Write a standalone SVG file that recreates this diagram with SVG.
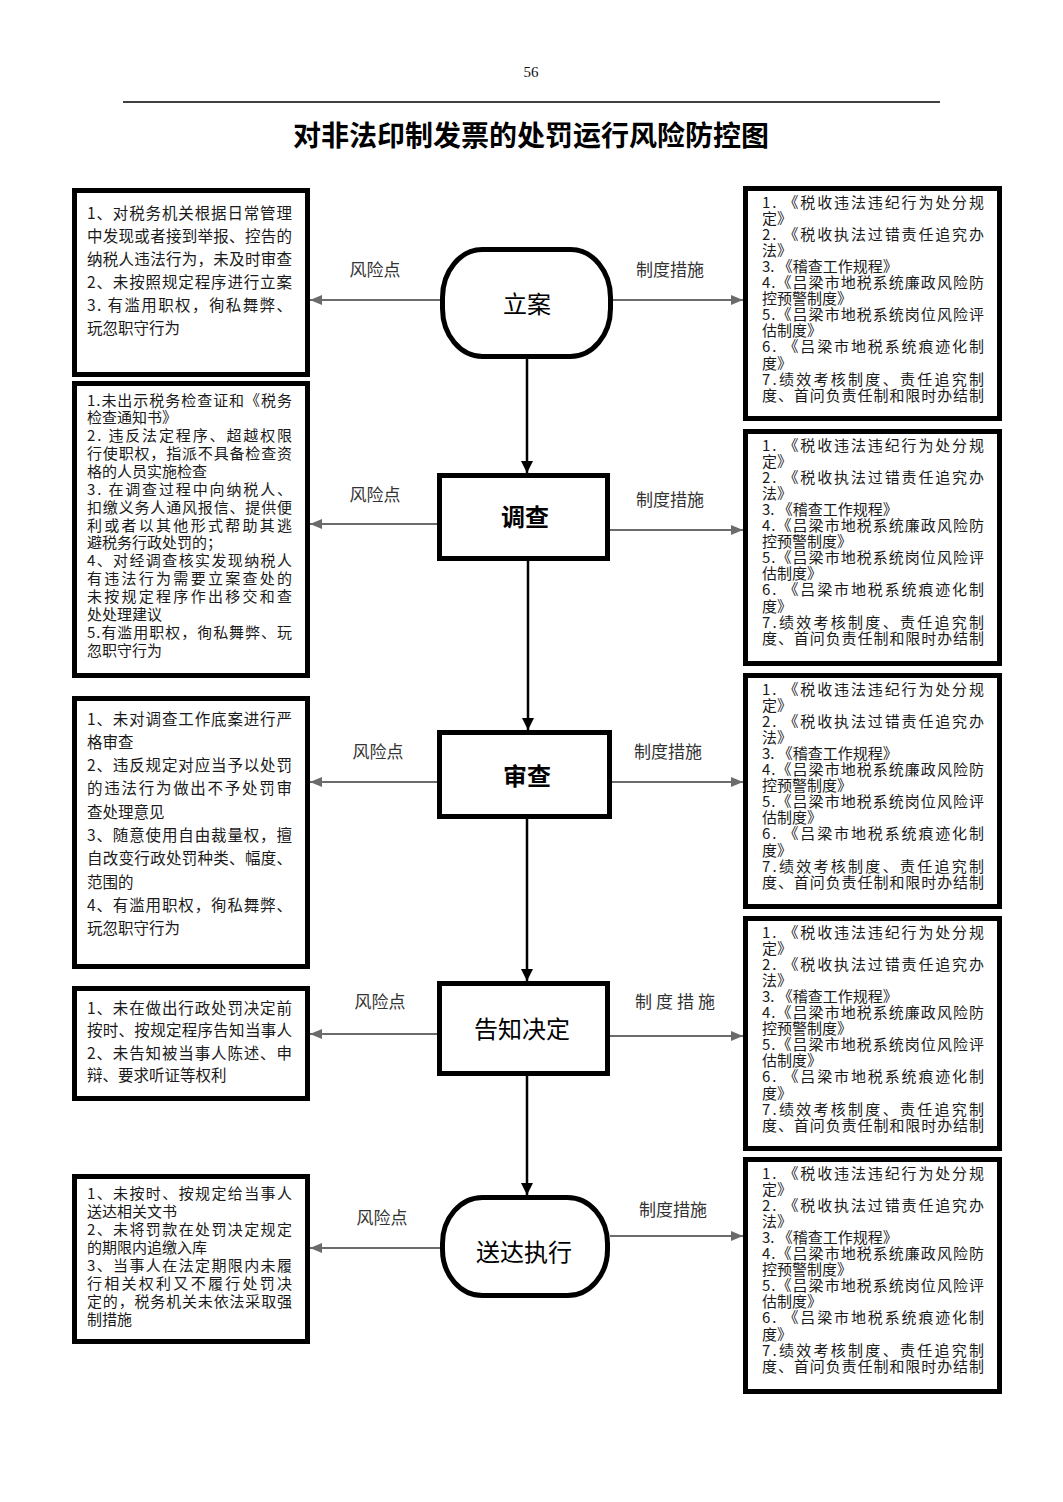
<svg xmlns="http://www.w3.org/2000/svg" width="1063" height="1502" viewBox="0 0 1063 1502">
<style>
.bg{fill:#fff}
.box{fill:#fff;stroke:#000;stroke-width:5}
.node{fill:#fff;stroke:#000;stroke-width:5}
.t{font-family:"Noto Sans CJK SC","Noto Sans CJK JP",sans-serif;font-size:15.5px;fill:#1a1a1a}
.s{font-size:15px}
.lbl{font-family:"Noto Sans CJK SC","Noto Sans CJK JP",sans-serif;font-size:17px;fill:#333;text-anchor:middle}
.nt{font-family:"Noto Sans CJK SC","Noto Sans CJK JP",sans-serif;font-size:24px;fill:#000;text-anchor:middle}
.b{font-weight:bold}
.g{stroke:#6b6b6b;stroke-width:2.2;fill:none}
.k{stroke:#000;stroke-width:2.5;fill:none}
</style>
<defs>
<marker id="ak" viewBox="0 0 12 12" refX="12" refY="6" markerWidth="12" markerHeight="12" orient="auto" markerUnits="userSpaceOnUse"><path d="M0,0 L12,6 L0,12 z" fill="#000"/></marker>
<marker id="ag" viewBox="0 0 12 10" refX="12" refY="5" markerWidth="12" markerHeight="10" orient="auto" markerUnits="userSpaceOnUse"><path d="M0,0 L12,5 L0,10 z" fill="#6b6b6b"/></marker>
</defs>
<rect class="bg" x="0" y="0" width="1063" height="1502"/>

<g id="header">
<text x="531" y="77" font-family="Liberation Serif,serif" font-size="15" text-anchor="middle" fill="#111">56</text>
<line x1="123" y1="102" x2="940" y2="102" stroke="#000" stroke-width="1.6"/>
<text x="531" y="146" font-family="Noto Sans CJK SC,sans-serif" font-size="28" font-weight="bold" text-anchor="middle" fill="#000">对非法印制发票的处罚运行风险防控图</text>
</g>

<g id="connectors">
<line class="k" x1="527" y1="359" x2="527" y2="473" marker-end="url(#ak)"/>
<line class="k" x1="528" y1="561" x2="528" y2="730" marker-end="url(#ak)"/>
<line class="k" x1="527" y1="819" x2="527" y2="981" marker-end="url(#ak)"/>
<line class="k" x1="527" y1="1076" x2="527" y2="1195" marker-end="url(#ak)"/>
<line class="g" x1="440" y1="300" x2="310" y2="300" marker-end="url(#ag)"/>
<line class="g" x1="613" y1="300" x2="743" y2="300" marker-end="url(#ag)"/>
<line class="g" x1="437" y1="524" x2="310" y2="524" marker-end="url(#ag)"/>
<line class="g" x1="610" y1="530" x2="743" y2="530" marker-end="url(#ag)"/>
<line class="g" x1="437" y1="782" x2="310" y2="782" marker-end="url(#ag)"/>
<line class="g" x1="612" y1="782" x2="743" y2="782" marker-end="url(#ag)"/>
<line class="g" x1="437" y1="1034" x2="310" y2="1034" marker-end="url(#ag)"/>
<line class="g" x1="610" y1="1036" x2="743" y2="1036" marker-end="url(#ag)"/>
<line class="g" x1="440" y1="1248" x2="310" y2="1248" marker-end="url(#ag)"/>
<line class="g" x1="610" y1="1236" x2="743" y2="1236" marker-end="url(#ag)"/>
<text class="lbl" x="375" y="276">风险点</text>
<text class="lbl" x="670" y="276">制度措施</text>
<text class="lbl" x="375" y="501">风险点</text>
<text class="lbl" x="670" y="506">制度措施</text>
<text class="lbl" x="378" y="758">风险点</text>
<text class="lbl" x="668" y="758">制度措施</text>
<text class="lbl" x="380" y="1008">风险点</text>
<text class="lbl" x="677" y="1008" letter-spacing="4">制度措施</text>
<text class="lbl" x="382" y="1224">风险点</text>
<text class="lbl" x="673" y="1216">制度措施</text>
</g>

<g id="n1">
<rect class="node" x="442.5" y="249.5" width="168" height="107" rx="40" ry="48"/>
<text class="nt" x="527" y="313">立案</text>
</g>
<g id="n2">
<rect class="node" x="439.5" y="475.5" width="168" height="83"/>
<text class="nt b" x="525" y="526">调查</text>
</g>
<g id="n3">
<rect class="node" x="439.5" y="732.5" width="170" height="84"/>
<text class="nt b" x="527" y="785">审查</text>
</g>
<g id="n4">
<rect class="node" x="439.5" y="983.5" width="168" height="90"/>
<text class="nt" x="522" y="1038" font-size="25">告知决定</text>
</g>
<g id="n5">
<rect class="node" x="442.5" y="1197.5" width="165" height="98" rx="40" ry="46"/>
<text class="nt" x="524" y="1261" font-size="25">送达执行</text>
</g>

<g id="risk1">
<rect class="box" x="74.5" y="190.5" width="233" height="184"/>
<text class="t" x="87" y="219" textLength="205" lengthAdjust="spacing">1、对税务机关根据日常管理</text>
<text class="t" x="87" y="242" textLength="205" lengthAdjust="spacing">中发现或者接到举报、控告的</text>
<text class="t" x="87" y="265" textLength="205" lengthAdjust="spacing">纳税人违法行为，未及时审查</text>
<text class="t" x="87" y="288" textLength="205" lengthAdjust="spacing">2、未按照规定程序进行立案</text>
<text class="t" x="87" y="311" textLength="205" lengthAdjust="spacing">3. 有滥用职权，徇私舞弊、</text>
<text class="t" x="87" y="334">玩忽职守行为</text>
</g>

<g id="risk2">
<rect class="box" x="74.5" y="383.5" width="233" height="292"/>
<text class="t s" x="87" y="405.5" textLength="205" lengthAdjust="spacing">1.未出示税务检查证和《税务</text>
<text class="t s" x="87" y="423.4">检查通知书》</text>
<text class="t s" x="87" y="441.2" textLength="205" lengthAdjust="spacing">2. 违反法定程序、超越权限</text>
<text class="t s" x="87" y="459.1" textLength="205" lengthAdjust="spacing">行使职权，指派不具备检查资</text>
<text class="t s" x="87" y="476.9">格的人员实施检查</text>
<text class="t s" x="87" y="494.8" textLength="205" lengthAdjust="spacing">3. 在调查过程中向纳税人、</text>
<text class="t s" x="87" y="512.7" textLength="205" lengthAdjust="spacing">扣缴义务人通风报信、提供便</text>
<text class="t s" x="87" y="530.5" textLength="205" lengthAdjust="spacing">利或者以其他形式帮助其逃</text>
<text class="t s" x="87" y="548.4">避税务行政处罚的；</text>
<text class="t s" x="87" y="566.2" textLength="205" lengthAdjust="spacing">4、对经调查核实发现纳税人</text>
<text class="t s" x="87" y="584.1" textLength="205" lengthAdjust="spacing">有违法行为需要立案查处的</text>
<text class="t s" x="87" y="602.0" textLength="205" lengthAdjust="spacing">未按规定程序作出移交和查</text>
<text class="t s" x="87" y="619.8">处处理建议</text>
<text class="t s" x="87" y="637.7" textLength="205" lengthAdjust="spacing">5.有滥用职权，徇私舞弊、玩</text>
<text class="t s" x="87" y="655.5">忽职守行为</text>
</g>

<g id="risk3">
<rect class="box" x="74.5" y="698.5" width="233" height="268"/>
<text class="t" x="87" y="724.5" textLength="205" lengthAdjust="spacing">1、未对调查工作底案进行严</text>
<text class="t" x="87" y="747.8">格审查</text>
<text class="t" x="87" y="771.1" textLength="205" lengthAdjust="spacing">2、违反规定对应当予以处罚</text>
<text class="t" x="87" y="794.4" textLength="205" lengthAdjust="spacing">的违法行为做出不予处罚审</text>
<text class="t" x="87" y="817.7">查处理意见</text>
<text class="t" x="87" y="841.0" textLength="205" lengthAdjust="spacing">3、随意使用自由裁量权，擅</text>
<text class="t" x="87" y="864.3" textLength="205" lengthAdjust="spacing">自改变行政处罚种类、幅度、</text>
<text class="t" x="87" y="887.6">范围的</text>
<text class="t" x="87" y="910.9" textLength="205" lengthAdjust="spacing">4、有滥用职权，徇私舞弊、</text>
<text class="t" x="87" y="934.2">玩忽职守行为</text>
</g>

<g id="risk4">
<rect class="box" x="74.5" y="988.5" width="233" height="110"/>
<text class="t" x="87" y="1013.5" textLength="205" lengthAdjust="spacing">1、未在做出行政处罚决定前</text>
<text class="t" x="87" y="1036" textLength="205" lengthAdjust="spacing">按时、按规定程序告知当事人</text>
<text class="t" x="87" y="1058.5" textLength="205" lengthAdjust="spacing">2、未告知被当事人陈述、申</text>
<text class="t" x="87" y="1081">辩、要求听证等权利</text>
</g>

<g id="risk5">
<rect class="box" x="74.5" y="1176.5" width="233" height="165"/>
<text class="t s" x="87" y="1198.5" textLength="205" lengthAdjust="spacing">1、未按时、按规定给当事人</text>
<text class="t s" x="87" y="1216.6">送达相关文书</text>
<text class="t s" x="87" y="1234.7" textLength="205" lengthAdjust="spacing">2、未将罚款在处罚决定规定</text>
<text class="t s" x="87" y="1252.8">的期限内追缴入库</text>
<text class="t s" x="87" y="1270.9" textLength="205" lengthAdjust="spacing">3、当事人在法定期限内未履</text>
<text class="t s" x="87" y="1289.0" textLength="205" lengthAdjust="spacing">行相关权利又不履行处罚决</text>
<text class="t s" x="87" y="1307.1" textLength="205" lengthAdjust="spacing">定的，税务机关未依法采取强</text>
<text class="t s" x="87" y="1325.2">制措施</text>
</g>

<g id="measure1">
<rect class="box" x="745.5" y="188.5" width="254" height="230"/>
<text class="t s" x="762" y="207.5" textLength="222" lengthAdjust="spacing">1. 《税收违法违纪行为处分规</text>
<text class="t s" x="762" y="223.6">定》</text>
<text class="t s" x="762" y="239.7" textLength="222" lengthAdjust="spacing">2. 《税收执法过错责任追究办</text>
<text class="t s" x="762" y="255.8">法》</text>
<text class="t s" x="762" y="271.9">3. 《稽查工作规程》</text>
<text class="t s" x="762" y="288.0" textLength="222" lengthAdjust="spacing">4.《吕梁市地税系统廉政风险防</text>
<text class="t s" x="762" y="304.1">控预警制度》</text>
<text class="t s" x="762" y="320.2" textLength="222" lengthAdjust="spacing">5.《吕梁市地税系统岗位风险评</text>
<text class="t s" x="762" y="336.3">估制度》</text>
<text class="t s" x="762" y="352.4" textLength="222" lengthAdjust="spacing">6. 《吕梁市地税系统痕迹化制</text>
<text class="t s" x="762" y="368.5">度》</text>
<text class="t s" x="762" y="384.6" textLength="222" lengthAdjust="spacing">7.绩效考核制度、责任追究制</text>
<text class="t s" x="762" y="400.7" textLength="222" lengthAdjust="spacing">度、首问负责任制和限时办结制</text>
</g>

<g id="measure2">
<rect class="box" x="745.5" y="431.5" width="254" height="232"/>
<text class="t s" x="762" y="450.5" textLength="222" lengthAdjust="spacing">1. 《税收违法违纪行为处分规</text>
<text class="t s" x="762" y="466.6">定》</text>
<text class="t s" x="762" y="482.7" textLength="222" lengthAdjust="spacing">2. 《税收执法过错责任追究办</text>
<text class="t s" x="762" y="498.8">法》</text>
<text class="t s" x="762" y="514.9">3. 《稽查工作规程》</text>
<text class="t s" x="762" y="531.0" textLength="222" lengthAdjust="spacing">4.《吕梁市地税系统廉政风险防</text>
<text class="t s" x="762" y="547.1">控预警制度》</text>
<text class="t s" x="762" y="563.2" textLength="222" lengthAdjust="spacing">5.《吕梁市地税系统岗位风险评</text>
<text class="t s" x="762" y="579.3">估制度》</text>
<text class="t s" x="762" y="595.4" textLength="222" lengthAdjust="spacing">6. 《吕梁市地税系统痕迹化制</text>
<text class="t s" x="762" y="611.5">度》</text>
<text class="t s" x="762" y="627.6" textLength="222" lengthAdjust="spacing">7.绩效考核制度、责任追究制</text>
<text class="t s" x="762" y="643.7" textLength="222" lengthAdjust="spacing">度、首问负责任制和限时办结制</text>
</g>

<g id="measure3">
<rect class="box" x="745.5" y="675.5" width="254" height="231"/>
<text class="t s" x="762" y="694.5" textLength="222" lengthAdjust="spacing">1. 《税收违法违纪行为处分规</text>
<text class="t s" x="762" y="710.6">定》</text>
<text class="t s" x="762" y="726.7" textLength="222" lengthAdjust="spacing">2. 《税收执法过错责任追究办</text>
<text class="t s" x="762" y="742.8">法》</text>
<text class="t s" x="762" y="758.9">3. 《稽查工作规程》</text>
<text class="t s" x="762" y="775.0" textLength="222" lengthAdjust="spacing">4.《吕梁市地税系统廉政风险防</text>
<text class="t s" x="762" y="791.1">控预警制度》</text>
<text class="t s" x="762" y="807.2" textLength="222" lengthAdjust="spacing">5.《吕梁市地税系统岗位风险评</text>
<text class="t s" x="762" y="823.3">估制度》</text>
<text class="t s" x="762" y="839.4" textLength="222" lengthAdjust="spacing">6. 《吕梁市地税系统痕迹化制</text>
<text class="t s" x="762" y="855.5">度》</text>
<text class="t s" x="762" y="871.6" textLength="222" lengthAdjust="spacing">7.绩效考核制度、责任追究制</text>
<text class="t s" x="762" y="887.7" textLength="222" lengthAdjust="spacing">度、首问负责任制和限时办结制</text>
</g>

<g id="measure4">
<rect class="box" x="745.5" y="918.5" width="254" height="230"/>
<text class="t s" x="762" y="937.5" textLength="222" lengthAdjust="spacing">1. 《税收违法违纪行为处分规</text>
<text class="t s" x="762" y="953.6">定》</text>
<text class="t s" x="762" y="969.7" textLength="222" lengthAdjust="spacing">2. 《税收执法过错责任追究办</text>
<text class="t s" x="762" y="985.8">法》</text>
<text class="t s" x="762" y="1001.9">3. 《稽查工作规程》</text>
<text class="t s" x="762" y="1018.0" textLength="222" lengthAdjust="spacing">4.《吕梁市地税系统廉政风险防</text>
<text class="t s" x="762" y="1034.1">控预警制度》</text>
<text class="t s" x="762" y="1050.2" textLength="222" lengthAdjust="spacing">5.《吕梁市地税系统岗位风险评</text>
<text class="t s" x="762" y="1066.3">估制度》</text>
<text class="t s" x="762" y="1082.4" textLength="222" lengthAdjust="spacing">6. 《吕梁市地税系统痕迹化制</text>
<text class="t s" x="762" y="1098.5">度》</text>
<text class="t s" x="762" y="1114.6" textLength="222" lengthAdjust="spacing">7.绩效考核制度、责任追究制</text>
<text class="t s" x="762" y="1130.7" textLength="222" lengthAdjust="spacing">度、首问负责任制和限时办结制</text>
</g>

<g id="measure5">
<rect class="box" x="745.5" y="1159.5" width="254" height="232"/>
<text class="t s" x="762" y="1178.5" textLength="222" lengthAdjust="spacing">1. 《税收违法违纪行为处分规</text>
<text class="t s" x="762" y="1194.6">定》</text>
<text class="t s" x="762" y="1210.7" textLength="222" lengthAdjust="spacing">2. 《税收执法过错责任追究办</text>
<text class="t s" x="762" y="1226.8">法》</text>
<text class="t s" x="762" y="1242.9">3. 《稽查工作规程》</text>
<text class="t s" x="762" y="1259.0" textLength="222" lengthAdjust="spacing">4.《吕梁市地税系统廉政风险防</text>
<text class="t s" x="762" y="1275.1">控预警制度》</text>
<text class="t s" x="762" y="1291.2" textLength="222" lengthAdjust="spacing">5.《吕梁市地税系统岗位风险评</text>
<text class="t s" x="762" y="1307.3">估制度》</text>
<text class="t s" x="762" y="1323.4" textLength="222" lengthAdjust="spacing">6. 《吕梁市地税系统痕迹化制</text>
<text class="t s" x="762" y="1339.5">度》</text>
<text class="t s" x="762" y="1355.6" textLength="222" lengthAdjust="spacing">7.绩效考核制度、责任追究制</text>
<text class="t s" x="762" y="1371.7" textLength="222" lengthAdjust="spacing">度、首问负责任制和限时办结制</text>
</g>
</svg>
